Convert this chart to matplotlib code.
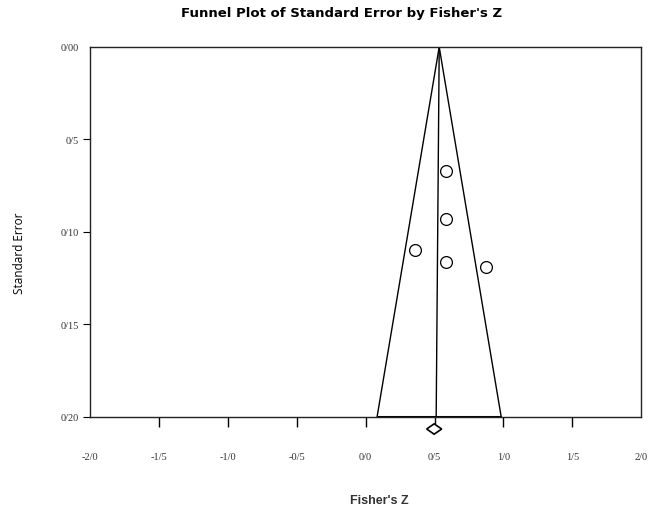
import matplotlib
matplotlib.use('Agg')
import matplotlib.pyplot as plt
import numpy as np

# study effects (Fisher's Z) and their standard errors
fisher_z = [0.584, 0.584, 0.359, 0.584, 0.875]
std_err = [0.067, 0.093, 0.110, 0.116, 0.119]

# funnel: apex at the combined effect, edges at the bottom of the axis
funnel_apex = 0.534
funnel_left = 0.083
funnel_right = 0.984
mean_bottom = 0.512
se_max = 0.20

# combined effect diamond (point estimate and CI)
combined = 0.497
ci_low = 0.443
ci_high = 0.552

x_ticks = [-2.0, -1.5, -1.0, -0.5, 0.0, 0.5, 1.0, 1.5, 2.0]
x_labels = ['-2/0', '-1/5', '-1/0', '-0/5', '0/0', '0/5', '1/0', '1/5', '2/0']
y_ticks = [0.00, 0.05, 0.10, 0.15, 0.20]
y_labels = ['0/00', '0/5', '0/10', '0/15', '0/20']

fig = plt.figure(figsize=(6.5, 5.1), dpi=100)
ax = fig.add_axes([0.1385, 0.1804, 0.848, 0.7255])

# funnel
ax.plot([funnel_left, funnel_apex, funnel_right], [se_max, 0, se_max], color='black', lw=1.0)
ax.plot([funnel_apex, mean_bottom], [0, se_max], color='black', lw=1.0)
ax.plot([funnel_left, funnel_right], [se_max, se_max], color='black', lw=2.2, solid_capstyle='butt')

# studies
ax.plot(fisher_z, std_err, 'o', ms=8.5, mfc='white', mec='black', mew=0.9, ls='none')

# diamond below the axis
dy = 0.0028
yd = se_max + 0.0065
ax.fill([ci_low, combined, ci_high, combined], [yd, yd - dy, yd, yd + dy],
        facecolor='white', edgecolor='black', lw=1.2, clip_on=False, zorder=5)

ax.set_xlim(-2.0, 2.0)
ax.set_ylim(se_max, 0)

ax.set_xticks(x_ticks)
ax.set_xticklabels(x_labels, family='Liberation Serif', fontsize=7.5, color='#333333')
ax.set_yticks(y_ticks)
ax.set_yticklabels(y_labels, family='Liberation Serif', fontsize=7.5, color='#333333')
ax.tick_params(axis='x', direction='out', length=7, width=1.0, pad=18)
ax.tick_params(axis='y', direction='out', length=5, width=0.8, pad=3)
xt = ax.xaxis.get_major_ticks()
xt[0].tick1line.set_visible(False)
xt[-1].tick1line.set_visible(False)
ax.yaxis.get_major_ticks()[0].tick1line.set_visible(False)

for s in ax.spines.values():
    s.set_linewidth(1.0)
    s.set_color('#222222')

fig.text(342 / 650, 1 - 14 / 510, "Funnel Plot of Standard Error by Fisher's Z",
         ha='center', va='center', fontsize=9.5, fontweight='bold', family='DejaVu Sans')
fig.text(20 / 650, 0.504, 'Standard Error', rotation=90, ha='center', va='center',
         fontsize=8.5, family='Open Sans')
fig.text(379 / 650, 1 - 501 / 510, "Fisher's Z", ha='center', va='center',
         fontsize=9, fontweight='bold', family='Liberation Sans', color='#333333')

fig.savefig('out.png', dpi=100)
